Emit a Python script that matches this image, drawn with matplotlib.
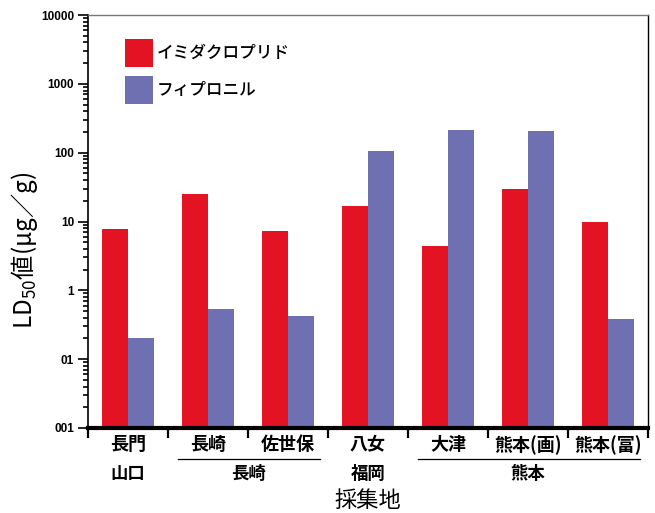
import numpy as np
import matplotlib
matplotlib.use("Agg")
from matplotlib import pyplot as plt
from matplotlib import ticker
from matplotlib.patches import Patch
import matplotlib.transforms as mtransforms

##################################################
# Data: LD50 (ug/g) by collection site
sites = ["長門", "長崎", "佐世保", "八女", "大津", "熊本(画)", "熊本(富)"]
imidacloprid = [7.9, 25, 7.2, 16.9, 4.4, 29.6, 9.7]
fipronil = [0.2, 0.53, 0.42, 107, 213, 206, 0.38]

# Prefecture rows under the site names
prefectures = ["山口", "長崎", "福岡", "熊本"]
pref_first = [0, 1, 3, 4]
pref_last = [0, 2, 3, 6]

series_names = ["イミダクロプリド", "フィプロニル"]
ytick_values = [0.01, 0.1, 1, 10, 100, 1000, 10000]
ytick_labels = ["001", "01", "1", "10", "100", "1000", "10000"]

##################################################
RED = "#e41324"
BLUE = "#6e70b2"
JP = "Noto Sans CJK JP"

plt.rcParams["mathtext.fontset"] = "custom"
plt.rcParams["mathtext.rm"] = JP
plt.rcParams["mathtext.it"] = JP

fig = plt.figure(figsize=(6.55, 5.13), dpi=100)
ax = fig.add_axes([88 / 655, 1 - 428 / 513, 560 / 655, 413 / 513])

x = np.arange(len(sites))
w = 0.33
ymin = 0.01
ax.bar(x - w / 2, np.array(imidacloprid) - ymin, w, bottom=ymin,
       color=RED, linewidth=0)
ax.bar(x + w / 2, np.array(fipronil) - ymin, w, bottom=ymin,
       color=BLUE, linewidth=0)

ax.set_yscale("log")
ax.set_ylim(ymin, 10000)
ax.set_xlim(-0.5, len(sites) - 0.5)

# y axis: decade labels, minor ticks outward
ax.yaxis.set_major_locator(ticker.FixedLocator(ytick_values))
ax.yaxis.set_major_formatter(ticker.FixedFormatter(ytick_labels))
ax.yaxis.set_minor_locator(ticker.LogLocator(base=10, subs=np.arange(2, 10)))
ax.yaxis.set_minor_formatter(ticker.NullFormatter())
ax.tick_params(axis="y", which="major", direction="out", length=7,
               width=1.2, pad=3)
ax.tick_params(axis="y", which="minor", direction="out", length=3.8,
               width=1.2)
for lab in ax.get_yticklabels():
    lab.set_fontfamily("Liberation Sans")
    lab.set_fontweight("bold")
    lab.set_fontsize(8.5)

# x axis: site names, separator ticks between sites
ax.set_xticks(x)
ax.set_xticklabels(sites, fontfamily=JP, fontweight="bold", fontsize=13)
ax.set_xticks(np.arange(len(sites) + 1) - 0.5, minor=True)
ax.tick_params(axis="x", which="major", length=0, pad=5)
ax.tick_params(axis="x", which="minor", direction="out", length=7.5,
               width=1.6)

ax.spines["bottom"].set_linewidth(3)
ax.spines["left"].set_linewidth(1.2)
ax.spines["top"].set_linewidth(1.0)
ax.spines["top"].set_color("#777777")
ax.spines["right"].set_linewidth(1.0)

# prefecture labels with underline spanning their sites
trans = mtransforms.blended_transform_factory(ax.transData, ax.transAxes)
for name, a, b in zip(prefectures, pref_first, pref_last):
    ax.text((a + b) / 2, -0.111, name, transform=trans, ha="center",
            va="center", fontfamily=JP, fontweight="bold", fontsize=12.5)
    if b > a:
        ax.plot([a - 0.5 + 0.12, b + 0.5 - 0.1], [-0.0755, -0.0755],
                transform=trans, color="black", linewidth=0.9,
                clip_on=False)

ax.text(0.5, -0.1765, "採集地", transform=ax.transAxes, ha="center",
        va="center", fontfamily=JP, fontsize=16)

fig.text(25 / 655, 1 - 250 / 513, "LD$_{50}$値(μg／g)", rotation=90,
         ha="center", va="center", fontfamily=JP, fontsize=17.5)

handles = [Patch(facecolor=RED, linewidth=0), Patch(facecolor=BLUE, linewidth=0)]
ax.legend(handles, series_names, loc="upper left",
          bbox_to_anchor=((125 - 88) / 560, (428 - 39) / 413),
          frameon=False, borderaxespad=0, borderpad=0,
          handlelength=1.68, handleheight=2.2, handletextpad=0.2,
          labelspacing=0.54,
          prop={"family": JP, "size": 12, "weight": "medium"})

plt.savefig("out.png", dpi=100)
